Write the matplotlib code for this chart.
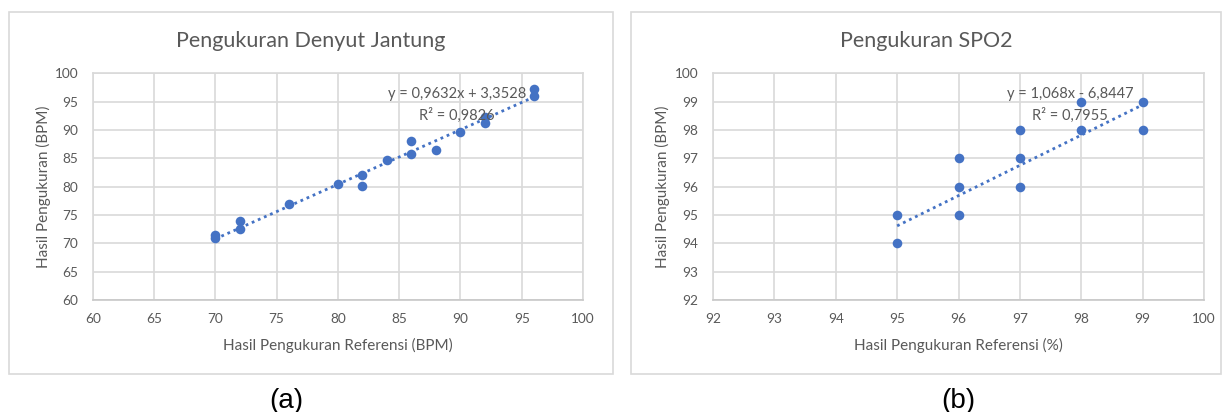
import matplotlib.pyplot as plt
from matplotlib.patches import Rectangle
import numpy as np

# --- DATA ---
# (a) denyut jantung
ref_bpm = [70, 70, 72, 72, 76, 80, 82, 82, 84, 86, 86, 88, 90, 92, 92, 96, 96]
ukur_bpm = [71.5, 71.0, 74.0, 72.5, 77.0, 80.5, 82.0, 80.2, 84.7, 88.0, 85.8, 86.5, 89.6, 92.3, 91.3, 97.3, 96.0]
slope_bpm, icpt_bpm = 0.9632, 3.3528
eq_bpm = "y = 0,9632x + 3,3528\nR² = 0,9826"

# (b) SPO2
ref_spo2 = [95, 95, 96, 96, 96, 97, 97, 97, 98, 98, 99, 99]
ukur_spo2 = [95, 94, 97, 96, 95, 98, 97, 96, 99, 98, 99, 98]
slope_spo2, icpt_spo2 = 1.068, -6.8447
eq_spo2 = "y = 1,068x - 6,8447\nR² = 0,7955"

W, H = 1222, 412
BLUE = "#4472C4"
TXT = "#595959"
GRID = "#D9D9D9"
FONT = "Lato"

fig = plt.figure(figsize=(W / 100, H / 100), dpi=100)


def px_axes(x0, y0, x1, y1):
    return fig.add_axes([x0 / W, 1 - y1 / H, (x1 - x0) / W, (y1 - y0) / H])


def panel(x0, y0, x1, y1):
    fig.patches.append(Rectangle((x0 / W, 1 - y1 / H), (x1 - x0) / W, (y1 - y0) / H,
                                 transform=fig.transFigure, fill=False,
                                 edgecolor=GRID, linewidth=1.2))


def ftext(x, y, s, **kw):
    # text placed in figure pixel coords (from top-left)
    fig.text(x / W, 1 - y / H, s, ha="center", va="center", **kw)


def draw(ax, x, y, slope, icpt, lims, step, eq, eqpos):
    ax.set_xlim(*lims)
    ax.set_ylim(*lims)
    ticks = np.arange(lims[0], lims[1] + step / 2, step)
    ax.set_xticks(ticks)
    ax.set_yticks(ticks)
    ax.grid(True, color=GRID, linewidth=1.2)
    ax.set_axisbelow(True)
    for s in ax.spines.values():
        s.set_color(GRID)
        s.set_linewidth(1.2)
    ax.spines["bottom"].set_color("#C8C8C8")
    ax.tick_params(length=0, labelsize=9.8, labelcolor=TXT)
    ax.tick_params(axis="x", pad=9.5)
    ax.tick_params(axis="y", pad=10.5)
    for lab in ax.get_xticklabels() + ax.get_yticklabels():
        lab.set_family(FONT)
    xs = np.array([min(x), max(x)])
    ax.plot(xs, slope * xs + icpt, linestyle=(0, (1, 1.4)), color=BLUE, linewidth=2)
    ax.scatter(x, y, s=48, color=BLUE, zorder=3, linewidths=0)
    ax.text(eqpos[0], eqpos[1], eq, ha="center", va="center", fontsize=10.5,
            color=TXT, family=FONT, linespacing=1.55, multialignment="center")


panel(9, 12, 613, 374)
panel(631, 12, 1221, 374)

ax1 = px_axes(92.7, 73.3, 583, 300)
draw(ax1, ref_bpm, ukur_bpm, slope_bpm, icpt_bpm, (60, 100), 5, eq_bpm, (89.7, 94.4))

ax2 = px_axes(713, 73.3, 1204, 300)
draw(ax2, ref_spo2, ukur_spo2, slope_spo2, icpt_spo2, (92, 100), 1, eq_spo2, (97.82, 98.88))

# judul
ftext(311, 41, "Pengukuran Denyut Jantung", fontsize=15.5, color=TXT, family=FONT)
ftext(926, 41, "Pengukuran SPO2", fontsize=15.5, color=TXT, family=FONT)

# label sumbu
ftext(338, 345, "Hasil Pengukuran Referensi (BPM)", fontsize=11, color=TXT, family=FONT)
ftext(958, 345, "Hasil Pengukuran Referensi (%)", fontsize=11, color=TXT, family=FONT)
ftext(43, 187, "Hasil Pengukuran (BPM)", fontsize=11, color=TXT, family=FONT, rotation=90)
ftext(662, 187, "Hasil Pengukuran (BPM)", fontsize=11, color=TXT, family=FONT, rotation=90)

# label panel
ftext(286, 401, "(a)", fontsize=20, family="Liberation Sans", color="black")
ftext(958, 401, "(b)", fontsize=20, family="Liberation Sans", color="black")

fig.savefig("out.png", dpi=100, facecolor="white")
